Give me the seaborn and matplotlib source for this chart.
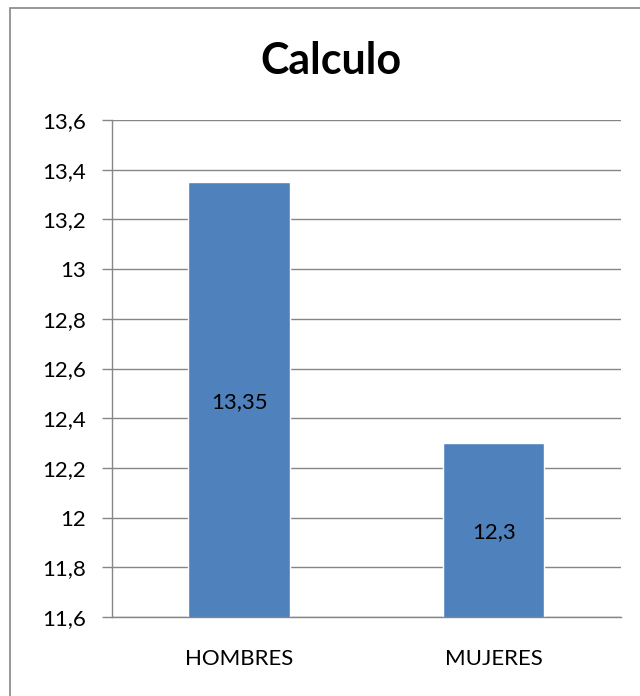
import pandas as pd
import seaborn as sns
import matplotlib.pyplot as plt
from matplotlib.patches import Rectangle
from matplotlib.ticker import FuncFormatter

categorias = ['HOMBRES', 'MUJERES']
valores = [13.35, 12.3]
etiquetas = ['13,35', '12,3']

df = pd.DataFrame({'Grupo': categorias, 'Nota': valores})

sns.set_style('white')
plt.rcParams['font.family'] = ['Lato', 'DejaVu Sans']
plt.rcParams['text.color'] = 'black'
plt.rcParams['xtick.color'] = 'black'
plt.rcParams['ytick.color'] = 'black'

fig = plt.figure(figsize=(6.4, 6.96), dpi=100)
ax = fig.add_axes([0.175, 0.1135, 0.795, 0.714])

sns.barplot(x='Grupo', y='Nota', data=df, order=categorias, color='#4F81BD',
            saturation=1, width=0.4, ax=ax)
ax.set_ylim(11.6, 13.6)
ax.set_xlim(-0.5, 1.5)
ax.set_yticks([11.6, 11.8, 12.0, 12.2, 12.4, 12.6, 12.8, 13.0, 13.2, 13.4, 13.6])
ax.yaxis.set_major_formatter(FuncFormatter(
    lambda v, p: ('%g' % round(v, 2)).replace('.', ',')))
ax.yaxis.grid(True, color='#868686', linewidth=1)
ax.set_axisbelow(True)

for bar, txt in zip(ax.patches, etiquetas):
    ymid = (11.6 + bar.get_height()) / 2
    ax.text(bar.get_x() + bar.get_width() / 2, ymid - 0.01, txt, ha='center',
            va='center', fontsize=16, color='black')

ax.set_xticks([-0.5, 0.5, 1.5], minor=True)
ax.tick_params(axis='x', which='major', length=0, pad=23, labelsize=16,
               labelcolor='black')
ax.tick_params(axis='x', which='minor', length=7, color='#868686', width=1)
ax.tick_params(axis='y', which='major', left=True, length=7, color='#868686',
               width=1, labelsize=16, pad=12, labelcolor='black')
ax.set_xlabel('')
ax.set_ylabel('')
for s in ['top', 'right']:
    ax.spines[s].set_visible(False)
for s in ['left', 'bottom']:
    ax.spines[s].set_color('#868686')
    ax.spines[s].set_linewidth(1)

fig.text(0.517, 0.913, 'Calculo', ha='center', va='center', fontsize=31,
         fontweight='bold', color='black')
fig.patches.append(Rectangle((10 / 640, -0.05), 1.2, 1 - 8 / 696 + 0.05,
                             transform=fig.transFigure, fill=False,
                             edgecolor='#868686', linewidth=1.2))

fig.savefig('out.png', dpi=100)
